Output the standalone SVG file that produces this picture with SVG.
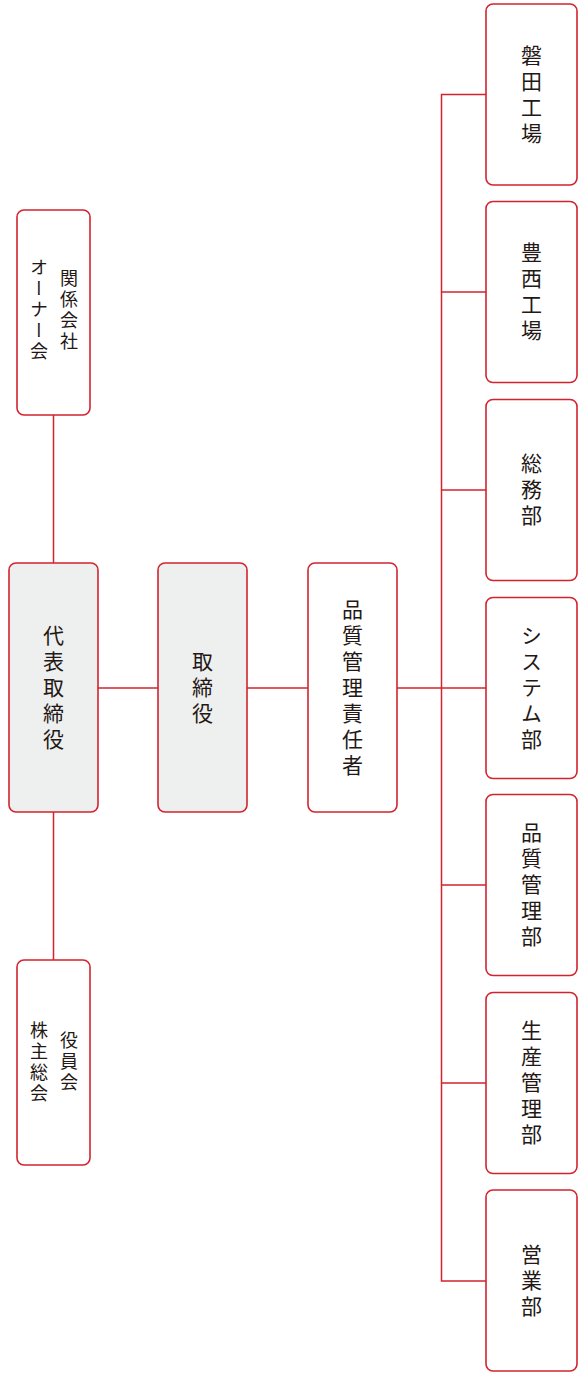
<svg xmlns="http://www.w3.org/2000/svg" width="581" height="1373" viewBox="0 0 581 1373">
<style>
.box{fill:#ffffff;stroke:#d2232f;stroke-width:1.6}
.gray{fill:#eeefef}
.ln{stroke:#d2232f;stroke-width:1.5;fill:none}
.t{font-family:"Noto Sans CJK JP","Noto Sans",sans-serif;fill:#231815;writing-mode:vertical-rl;text-anchor:middle}
.big{font-size:21px;letter-spacing:5px}
.sm{font-size:18px;letter-spacing:3px}
</style>
<rect width="581" height="1373" fill="#ffffff"/>
<g id="connectors">
<line class="ln" x1="53.5" y1="415" x2="53.5" y2="563"/>
<line class="ln" x1="53.5" y1="812" x2="53.5" y2="960"/>
<line class="ln" x1="98" y1="688" x2="158" y2="688"/>
<line class="ln" x1="247" y1="688" x2="308" y2="688"/>
<line class="ln" x1="397" y1="688" x2="486" y2="688"/>
<polyline class="ln" points="486,94.5 441.5,94.5 441.5,1281 486,1281"/>
<line class="ln" x1="441.5" y1="292" x2="486" y2="292"/>
<line class="ln" x1="441.5" y1="490" x2="486" y2="490"/>
<line class="ln" x1="441.5" y1="885" x2="486" y2="885"/>
<line class="ln" x1="441.5" y1="1083" x2="486" y2="1083"/>
</g>
<g id="n-owner">
<rect class="box" x="17" y="210" width="73" height="205" rx="7"/>
<text class="t sm" x="69" y="311">関係会社</text>
<text class="t sm" x="39" y="311">オーナー会</text>
</g>
<g id="n-daihyo">
<rect class="box gray" x="9" y="563" width="89" height="249" rx="7"/>
<text class="t big" x="53.5" y="690">代表取締役</text>
</g>
<g id="n-torishimari">
<rect class="box gray" x="158" y="563" width="89" height="249" rx="7"/>
<text class="t big" x="202.5" y="690">取締役</text>
</g>
<g id="n-sekinin">
<rect class="box" x="308" y="563" width="89" height="249" rx="7"/>
<text class="t big" x="352.5" y="690">品質管理責任者</text>
</g>
<g id="n-kabunushi">
<rect class="box" x="17" y="960" width="73" height="205" rx="7"/>
<text class="t sm" x="69" y="1063">役員会</text>
<text class="t sm" x="39" y="1063">株主総会</text>
</g>
<g id="n-iwata">
<rect class="box" x="486" y="4" width="91" height="181" rx="7"/>
<text class="t big" x="531.5" y="96.5">磐田工場</text>
</g>
<g id="n-toyonishi">
<rect class="box" x="486" y="201.5" width="91" height="181" rx="7"/>
<text class="t big" x="531.5" y="294">豊西工場</text>
</g>
<g id="n-somu">
<rect class="box" x="486" y="399.5" width="91" height="181" rx="7"/>
<text class="t big" x="531.5" y="492">総務部</text>
</g>
<g id="n-system">
<rect class="box" x="486" y="597.5" width="91" height="181" rx="7"/>
<text class="t big" x="531.5" y="690">システム部</text>
</g>
<g id="n-hinshitsu">
<rect class="box" x="486" y="794.5" width="91" height="181" rx="7"/>
<text class="t big" x="531.5" y="887">品質管理部</text>
</g>
<g id="n-seisan">
<rect class="box" x="486" y="992.5" width="91" height="181" rx="7"/>
<text class="t big" x="531.5" y="1085">生産管理部</text>
</g>
<g id="n-eigyo">
<rect class="box" x="486" y="1190" width="91" height="181" rx="7"/>
<text class="t big" x="531.5" y="1283">営業部</text>
</g>
</svg>
